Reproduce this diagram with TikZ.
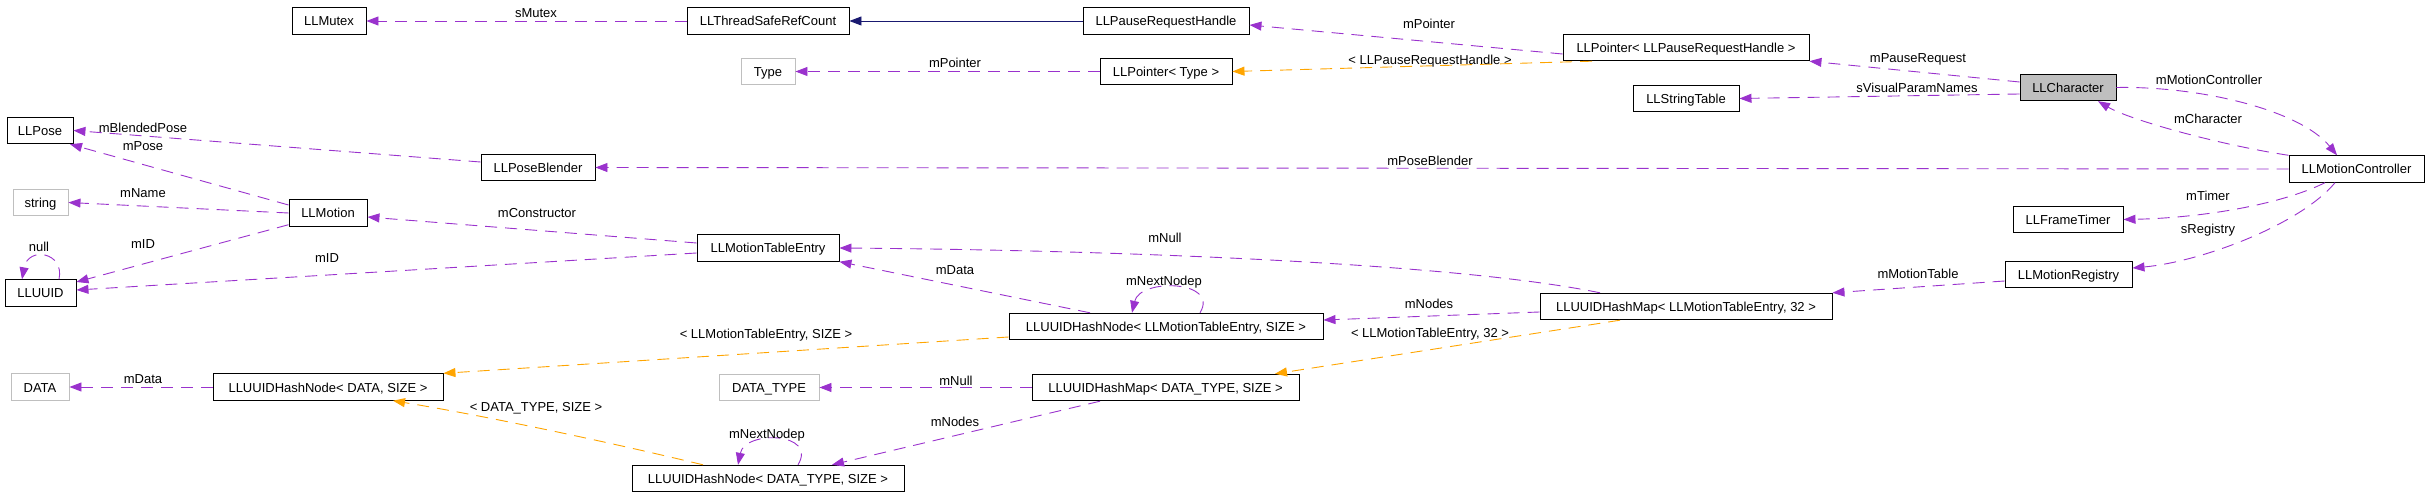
\documentclass[tikz,border=0pt]{standalone}
\usepackage{fontspec}
\setmainfont{Liberation Sans}
\usetikzlibrary{arrows.meta}
\definecolor{purp}{HTML}{9A32CD}
\definecolor{orng}{HTML}{FFA500}
\definecolor{navyb}{HTML}{191970}
\definecolor{greyb}{HTML}{BFBFBF}
\newcommand\lab{\fontsize{13}{15}\selectfont}
\tikzset{
  box/.style={draw=black, line width=0.9pt, inner sep=0pt, minimum height=26.5pt, font=\lab, text height=10pt, text depth=0pt},
  gbox/.style={box, draw=greyb},
  lbl/.style={font=\lab, inner sep=0pt, text height=10pt, text depth=0pt},
  rel/.style={draw=purp, line width=0.9pt, dash pattern=on 12pt off 8pt, -{Triangle[length=12pt,width=9pt]}},
  tmpl/.style={rel, draw=orng},
  inh/.style={draw=navyb, line width=0.9pt, -{Triangle[length=12pt,width=9pt]}}
}
\begin{document}
\begin{tikzpicture}[x=1pt,y=-1pt]
\useasboundingbox (0,0) rectangle (2429,497);
% nodes
\node[box, minimum width=74pt] (mutex) at (329,21) {LLMutex};
\node[box, minimum width=162pt] (tsrc) at (768,21) {LLThreadSafeRefCount};
\node[box, minimum width=166pt] (prh) at (1166,21) {LLPauseRequestHandle};
\node[gbox, minimum width=54pt] (type) at (768,71.5) {Type};
\node[box, minimum width=132pt] (ptrT) at (1166,71.5) {LLPointer< Type >};
\node[box, minimum width=246pt] (ptrP) at (1686,47.5) {LLPointer< LLPauseRequestHandle >};
\node[box, minimum width=106pt] (strtab) at (1686,98.5) {LLStringTable};
\node[box, fill=greyb, minimum width=96pt] (chr) at (2068,87.5) {LLCharacter};
\node[box, minimum width=135pt] (mc) at (2356.5,169) {LLMotionController};
\node[box, minimum width=110pt] (ft) at (2068,219.5) {LLFrameTimer};
\node[box, minimum width=127pt] (mr) at (2068.5,274.5) {LLMotionRegistry};
\node[box, minimum width=292pt] (hmE) at (1686,306.5) {LLUUIDHashMap< LLMotionTableEntry, 32 >};
\node[box, minimum width=66pt] (pose) at (40,130.5) {LLPose};
\node[box, minimum width=114pt] (pb) at (538,167.5) {LLPoseBlender};
\node[gbox, minimum width=55pt] (string) at (40.5,202.5) {string};
\node[box, minimum width=78pt] (motion) at (328,213) {LLMotion};
\node[box, minimum width=71pt] (uuid) at (40.5,293) {LLUUID};
\node[box, minimum width=142pt] (mte) at (768,248) {LLMotionTableEntry};
\node[box, minimum width=314pt] (hnE) at (1166,326.5) {LLUUIDHashNode< LLMotionTableEntry, SIZE >};
\node[gbox, minimum width=58pt] (data) at (40,387) {DATA};
\node[box, minimum width=230pt] (hnD) at (328,387) {LLUUIDHashNode< DATA, SIZE >};
\node[gbox, minimum width=100pt] (dtype) at (769,387.5) {DATA\_TYPE};
\node[box, minimum width=267pt] (hmDT) at (1165.5,387.5) {LLUUIDHashMap< DATA\_TYPE, SIZE >};
\node[box, minimum width=272pt] (hnDT) at (768,478.5) {LLUUIDHashNode< DATA\_TYPE, SIZE >};
% edges
\draw[rel] (tsrc.west) -- (mutex.east);
\draw[inh] (prh.west) -- (tsrc.east);
\draw[rel] ([yshift=-6.5pt]ptrP.west) -- ([yshift=-4pt]prh.east);
\draw[rel] (ptrT.west) -- (type.east);
\draw[tmpl] ([xshift=-94pt]ptrP.south) -- (ptrT.east);
\draw[rel] ([yshift=5.5pt]chr.west) -- (ptrP.south east);
\draw[rel] ([yshift=-6.5pt]chr.west) -- (strtab.east);
\draw[rel] (chr.east) .. controls (2200,86) and (2300,110) .. ([xshift=-19.5pt]mc.north);
\draw[rel] (mc.north west) .. controls (2220,145) and (2130,120) .. ([xshift=30pt]chr.south);
\draw[rel] (mc.west) -- (pb.east);
\draw[rel] ([xshift=-31.5pt]mc.south) .. controls (2280,205) and (2200,218) .. (ft.east);
\draw[rel] ([xshift=-21.5pt]mc.south) .. controls (2300,225) and (2200,262) .. ([yshift=6.5pt]mr.east);
\draw[rel] ([yshift=-6.5pt]mr.west) -- (hmE.north east);
\draw[rel] ([xshift=-86pt]hmE.north) .. controls (1450,262) and (1100,250) .. (mte.east);
\draw[rel] ([yshift=-5.5pt]hmE.west) -- ([yshift=6.5pt]hnE.east);
\draw[tmpl] ([xshift=-66pt]hmE.south) -- ([xshift=109.5pt]hmDT.north);
\draw[rel] ([xshift=-76pt]hnE.north) -- (mte.south east);
\draw[rel] ([xshift=34pt]hnE.north) .. controls (1220,280) and (1140,278) .. ([xshift=-34pt]hnE.north);
\draw[tmpl] ([yshift=-10.5pt]hnE.west) -- (hnD.north east);
\draw[rel] ([yshift=5pt]mte.west) -- ([yshift=-4pt]motion.east);
\draw[rel] ([yshift=-5pt]mte.west) -- ([yshift=3pt]uuid.east);
\draw[rel] ([yshift=8pt]motion.west) -- ([xshift=30pt]pose.south);
\draw[rel] (motion.west) -- (string.east);
\draw[rel] ([yshift=2pt]motion.south west) -- ([yshift=11pt]uuid.east);
\draw[rel] ([yshift=5.5pt]pb.west) -- (pose.east);
\draw[rel] ([xshift=18.5pt]uuid.north) .. controls (65,252) and (28,246) .. ([xshift=-18.5pt]uuid.north);
\draw[rel] (hnD.west) -- (data.east);
\draw[rel] (hmDT.west) -- (dtype.east);
\draw[rel] ([xshift=-65.5pt]hmDT.south) -- ([xshift=64pt]hnDT.north);
\draw[rel] ([xshift=30pt]hnDT.north) .. controls (818,432) and (745,430) .. ([xshift=-30pt]hnDT.north);
\draw[tmpl] ([xshift=-65pt]hnDT.north) .. controls (600,440) and (480,415) .. ([xshift=65pt]hnD.south);
% labels
\node[lbl] (l1) at (536,13) {sMutex};
\node[lbl] (l2) at (1429,24) {mPointer};
\node[lbl] (l3) at (955,63) {mPointer};
\node[lbl] (l4) at (1430,60) {< LLPauseRequestHandle >};
\node[lbl] (l5) at (1918,58) {mPauseRequest};
\node[lbl] (l6) at (1917,88) {sVisualParamNames};
\node[lbl] (l7) at (2209,80) {mMotionController};
\node[lbl] (l8) at (2208,119) {mCharacter};
\node[lbl] (l9) at (1430,161) {mPoseBlender};
\node[lbl] (l10) at (2208,196) {mTimer};
\node[lbl] (l11) at (2208,229) {sRegistry};
\node[lbl] (l12) at (1918,273) {mMotionTable};
\node[lbl] (l13) at (1165,238) {mNull};
\node[lbl] (l14) at (1429,303) {mNodes};
\node[lbl] (l15) at (1430,332) {< LLMotionTableEntry, 32 >};
\node[lbl] (l16) at (955,269) {mData};
\node[lbl] (l17) at (1164,281) {mNextNodep};
\node[lbl] (l18) at (766,333) {< LLMotionTableEntry, SIZE >};
\node[lbl] (l19) at (537,213) {mConstructor};
\node[lbl] (l20) at (327,257) {mID};
\node[lbl] (l21) at (143,146) {mPose};
\node[lbl] (l22) at (143,193) {mName};
\node[lbl] (l23) at (143,244) {mID};
\node[lbl] (l24) at (143,128) {mBlendedPose};
\node[lbl] (l25) at (39,247) {null};
\node[lbl] (l26) at (143,378) {mData};
\node[lbl] (l27) at (956,380) {mNull};
\node[lbl] (l28) at (955,421) {mNodes};
\node[lbl] (l29) at (767,433) {mNextNodep};
\node[lbl] (l30) at (536,406) {< DATA\_TYPE, SIZE >};
\end{tikzpicture}
\end{document}
